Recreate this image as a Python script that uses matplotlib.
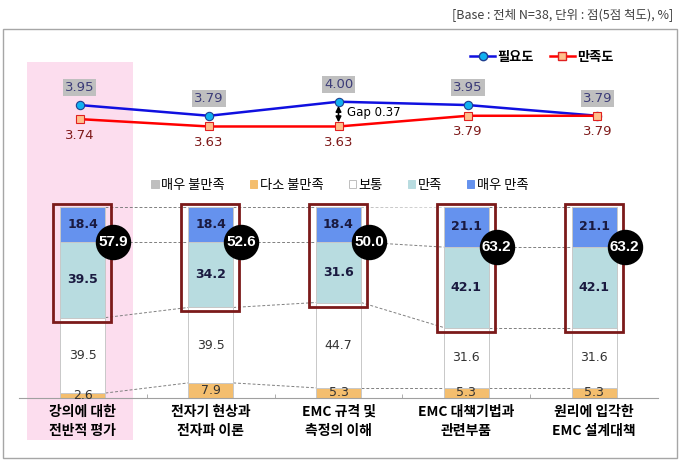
import numpy as np
import matplotlib.pyplot as plt
from matplotlib.patches import Rectangle, Patch
from matplotlib.lines import Line2D

plt.rcParams['font.family'] = ['DejaVu Sans', 'Noto Sans CJK KR']
KR = ['Noto Sans CJK KR', 'DejaVu Sans']

# 데이터
categories = ['강의에 대한\n전반적 평가', '전자기 현상과\n전자파 이론', 'EMC 규격 및\n측정의 이해',
              'EMC 대책기법과\n관련부품', '원리에 입각한\nEMC 설계대책']
need = [3.95, 3.79, 4.00, 3.95, 3.79]       # 필요도
satisfy = [3.74, 3.63, 3.63, 3.79, 3.79]    # 만족도
very_dis = [0, 0, 0, 0, 0]
some_dis = [2.6, 7.9, 5.3, 5.3, 5.3]
normal = [39.5, 39.5, 44.7, 31.6, 31.6]
sat = [39.5, 34.2, 31.6, 42.1, 42.1]
very_sat = [18.4, 18.4, 18.4, 21.1, 21.1]
top2 = [57.9, 52.6, 50.0, 63.2, 63.2]
seg_names = ['매우 불만족', '다소 불만족', '보통', '만족', '매우 만족']
seg_colors = ['#BFBFBF', '#F4BE6E', '#FFFFFF', '#B8DCE0', '#6592EE']

W, H = 687, 461
def fx(px):
    return px / W
def fy(py):
    return 1 - py / H

fig = plt.figure(figsize=(W / 100, H / 100), dpi=100)

# 배경 (분홍 강조, 외곽 테두리)
fig.patches.append(Rectangle((fx(27), fy(440)), (133 - 27) / W, (440 - 62) / H,
                             transform=fig.transFigure, facecolor='#FCDDEE',
                             edgecolor='none', zorder=-1))
fig.patches.append(Rectangle((fx(3), fy(458)), (677 - 3) / W, (458 - 29) / H,
                             transform=fig.transFigure, fill=False,
                             edgecolor='#A6A6A6', lw=1, zorder=-1))
fig.text(fx(673), fy(15), '[Base : 전체 N=38, 단위 : 점(5점 척도), %]', ha='right',
         va='center', fontsize=9, color='#404040', family=KR)

# ---- 누적 막대 ----
ax = fig.add_axes([fx(19), fy(398), (658 - 19) / W, 191 / H])
ax.patch.set_visible(False)
x = np.arange(len(categories))
w = 45 / 127.8
segs = [very_dis, some_dis, normal, sat, very_sat]
bottom = np.zeros(len(categories))
levels = []
for k, (vals, col) in enumerate(zip(segs, seg_colors)):
    vals = np.array(vals)
    ax.bar(x, vals, w, bottom=bottom, color=col, edgecolor='#C8C8C8', lw=0.7, zorder=2)
    for i, v in enumerate(vals):
        if v <= 0:
            continue
        yc = bottom[i] + v / 2
        if k >= 3:
            ax.text(i, yc, f'{v:.1f}', ha='center', va='center', fontsize=9,
                    fontweight='bold', color='#1A1A40', zorder=5)
        else:
            ax.text(i, yc, f'{v:.1f}', ha='center', va='center', fontsize=9,
                    color='#333333', zorder=5)
    bottom = bottom + vals
    levels.append(bottom.copy())

# 막대 사이 점선
for lv in levels:
    for i in range(len(categories) - 1):
        ax.plot([i + w / 2, i + 1 - w / 2], [lv[i], lv[i + 1]], ls=(0, (3, 2)),
                color='#808080', lw=0.7, zorder=1)

# Top2 박스와 원
px_x = 1 / 127.8
px_y = 100 / 191
base2 = np.array(some_dis) + np.array(normal) + np.array(very_dis)
for i in range(len(categories)):
    y0 = base2[i] - 4 * px_y
    hgt = sat[i] + very_sat[i] + 7 * px_y
    ax.add_patch(Rectangle((i - w / 2 - 7 * px_x, y0), w + 13 * px_x, hgt, fill=False,
                           edgecolor='#7B1A1A', lw=2, zorder=4, clip_on=False))
    cy = base2[i] + sat[i]
    ax.plot(i + w / 2 + 8 * px_x, cy, 'o', ms=24.5, color='black', zorder=6, clip_on=False)
    ax.text(i + w / 2 + 8 * px_x, cy, f'{top2[i]:.1f}', ha='center', va='center',
            fontsize=11, fontweight='bold', color='white', family='Liberation Sans', zorder=7)

ax.set_xlim(-0.5, 4.5)
ax.set_ylim(0, 100)
for s in ['top', 'right', 'left']:
    ax.spines[s].set_visible(False)
ax.spines['bottom'].set_color('#A0A0A0')
ax.set_yticks([])
ax.set_xticks(x)
ax.set_xticklabels(categories, fontsize=10, fontweight='bold', family=KR, linespacing=1.45)
ax.set_xticks(x[:-1] + 0.5, minor=True)
ax.tick_params(axis='x', which='major', length=0, pad=5)
ax.tick_params(axis='x', which='minor', length=3, direction='in', color='#A0A0A0')

bar_handles = [Patch(facecolor=c, edgecolor='#BFBFBF' if c == '#FFFFFF' else c, lw=0.7)
               for c in seg_colors]
ax.legend(bar_handles, seg_names, ncol=5, loc='center', bbox_to_anchor=(fx(340), fy(185)),
          bbox_transform=fig.transFigure, frameon=False, handlelength=0.55,
          handleheight=0.55, handletextpad=0.2, columnspacing=1.9,
          prop={'family': KR, 'size': 9.5})

# ---- 필요도 / 만족도 선 ----
ax2 = fig.add_axes([fx(15), fy(160), (662 - 15) / W, 100 / H])
ax2.set_xlim(-0.5, 4.5)
ax2.set_ylim(4.0 - (160 - 101.7) / 67, 4.0 + (101.7 - 60) / 67)
ax2.axis('off')
ax2.plot(x, need, color='#1010E0', lw=1.8, marker='o', ms=6, mfc='#10B0F0',
         mec='#1F3F8F', mew=0.8, zorder=3)
ax2.plot(x, satisfy, color='#FF0000', lw=1.8, marker='s', ms=5.5, mfc='#FFC08C',
         mec='#E02020', mew=0.8, zorder=3)
for i in range(len(categories)):
    ax2.annotate(f'{need[i]:.2f}', (i, need[i]), xytext=(0, 12.5), textcoords='offset points',
                 ha='center', va='center', fontsize=9.5, color='#3C3C78',
                 bbox=dict(boxstyle='square,pad=0.15', facecolor='#BFBFBF', edgecolor='none'))
    ax2.annotate(f'{satisfy[i]:.2f}', (i, satisfy[i]), xytext=(0, -11.5),
                 textcoords='offset points', ha='center', va='center', fontsize=9.5,
                 color='#7F1A1A')

gap = need[2] - satisfy[2]
ax2.annotate('', xy=(2, need[2]), xytext=(2, satisfy[2]),
             arrowprops=dict(arrowstyle='<|-|>', color='black', lw=1.2,
                             shrinkA=3, shrinkB=3, mutation_scale=8))
ax2.annotate(f'Gap {gap:.2f}', (2, (need[2] + satisfy[2]) / 2), xytext=(6, 1),
             textcoords='offset points', ha='left', va='center', fontsize=8.5, color='black')

line_handles = [Line2D([], [], color='#1010E0', lw=1.8, marker='o', ms=6, mfc='#10B0F0',
                       mec='#1F3F8F'),
                Line2D([], [], color='#FF0000', lw=1.8, marker='s', ms=5.5, mfc='#FFC08C',
                       mec='#E02020')]
ax2.legend(line_handles, ['필요도', '만족도'], ncol=2, loc='center',
           bbox_to_anchor=(fx(542), fy(57)), bbox_transform=fig.transFigure,
           frameon=False, handlelength=1.9, handletextpad=0.2, columnspacing=1.2,
           prop={'family': KR, 'size': 9.5, 'weight': 'bold'})

fig.savefig('out.png', dpi=100)
